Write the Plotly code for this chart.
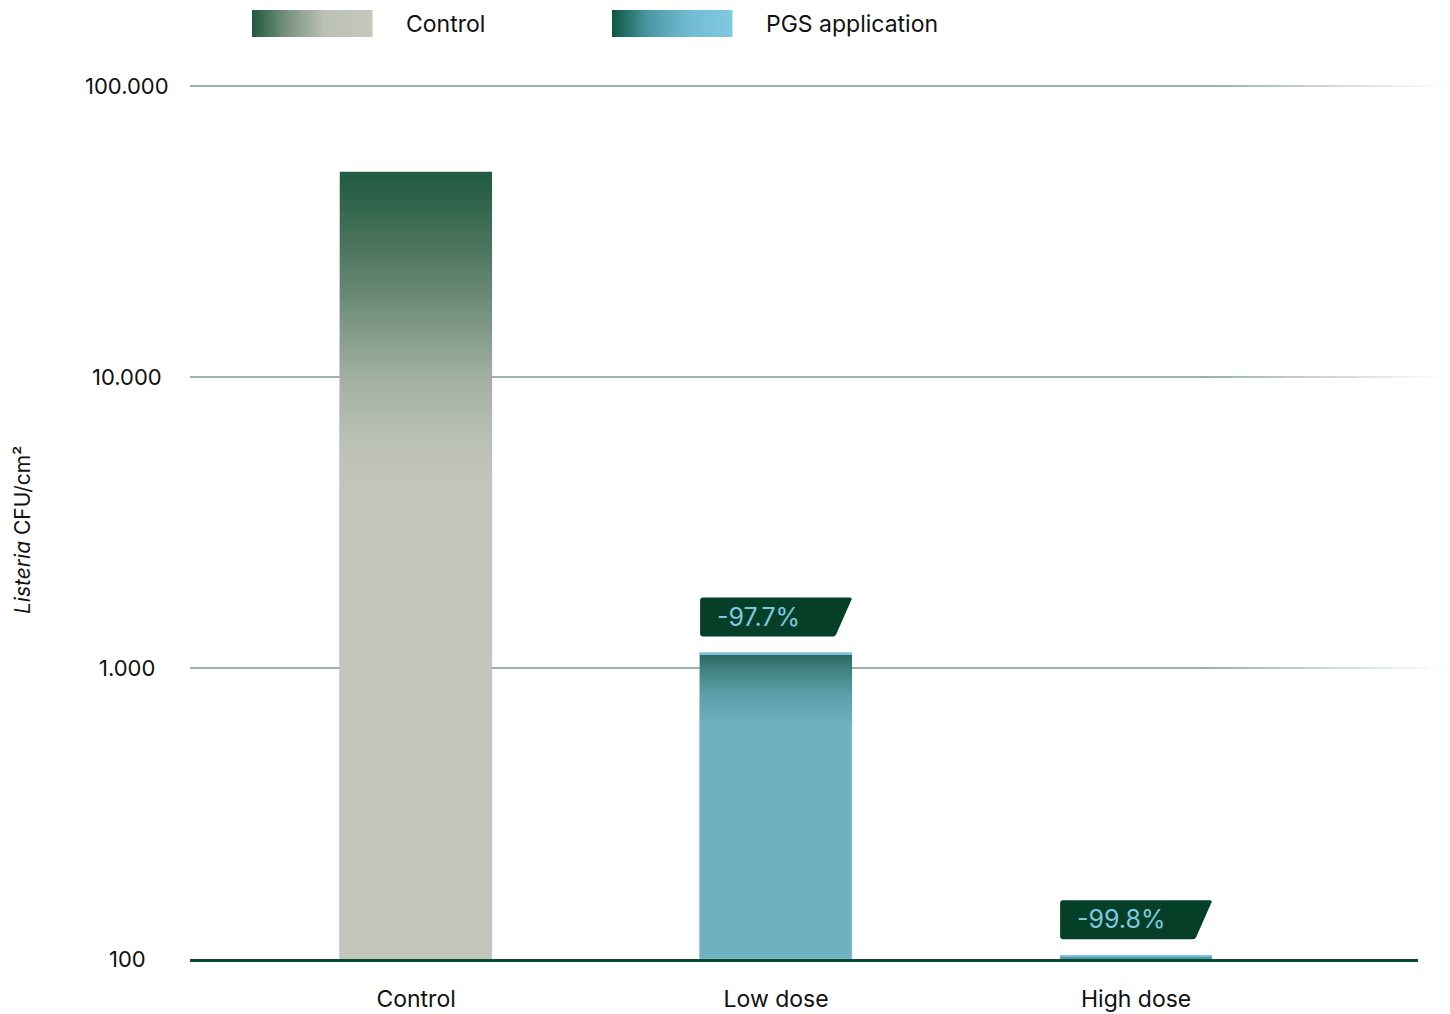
import math
import plotly.graph_objects as go

# ---------------- data ----------------
categories = ["Control", "Low dose", "High dose"]
cfu_values = [50500, 1130, 103]
bar_series = ["Control", "PGS application", "PGS application"]
reduction_labels = [None, "-97.7%", "-99.8%"]
y_tick_values = [100, 1000, 10000, 100000]
y_tick_labels = ["100", "1.000", "10.000", "100.000"]
legend_names = ["Control", "PGS application"]

# ---------------- styles ----------------
FONT = "Inter"
W, H = 1450, 1014
ML, MR, MT, MB = 190, 32, 86, 55
PW, PH = W - ML - MR, H - MT - MB
Y_MIN_LOG, Y_MAX_LOG = 2, 5
PX_PER_DEC = PH / (Y_MAX_LOG - Y_MIN_LOG)
BAR_W = 0.422
X_RANGE = [-0.628, 2.783]

bar_gradients = {
    "Control": {"length_px": 320,
                "stops": [(0, "#1f5a40"), (0.25, "#4f7762"), (0.42, "#718f7c"),
                          (0.64, "#a2b0a1"), (0.85, "#bcc1b5"), (1.0, "#c3c6bb")]},
    "PGS application": {"length_px": 72,
                        "stops": [(0, "#2b6660"), (0.3, "#468887"), (0.6, "#5f9fac"),
                                  (1.0, "#6fb1c1")]},
}
legend_gradients = {
    "Control": [(0, "#1f5a40"), (0.3, "#7a947f"), (0.6, "#bcc1b5"), (1.0, "#c4c7bc")],
    "PGS application": [(0, "#0f5642"), (0.3, "#4a98a4"), (0.65, "#72bcd2"), (1.0, "#80c9e1")],
}


def hex2rgb(h):
    h = h.lstrip("#")
    return [int(h[i:i + 2], 16) for i in (0, 2, 4)]


def interp(stops, f):
    f = min(max(f, 0), 1)
    for (a, ca), (b, cb) in zip(stops[:-1], stops[1:]):
        if a <= f <= b:
            t = 0 if b == a else (f - a) / (b - a)
            r1, r2 = hex2rgb(ca), hex2rgb(cb)
            c = [round(r1[i] + (r2[i] - r1[i]) * t) for i in range(3)]
            return "rgb(%d,%d,%d)" % tuple(c)
    return stops[-1][1]


fig = go.Figure()

# ---------------- gradient bars (stacked overlay segments) ----------------
K = 48
idx_grad = [i for i in range(len(categories)) if cfu_values[i] > 10 ** Y_MIN_LOG * 1.2]
fig.add_trace(go.Bar(
    x=[categories[i] for i in idx_grad],
    y=[cfu_values[i] - 10 ** Y_MIN_LOG for i in idx_grad],
    base=[10 ** Y_MIN_LOG] * len(idx_grad),
    width=BAR_W,
    marker=dict(color=[bar_gradients[bar_series[i]]["stops"][-1][1] for i in idx_grad],
                line=dict(width=0.6, color=["#b3b7ab", "#6fb1c1"][:len(idx_grad)])),
    showlegend=False, hoverinfo="skip"))
for j in range(K, 0, -1):
    f = j / K
    xs, ys, bs, cs = [], [], [], []
    for i in idx_grad:
        g = bar_gradients[bar_series[i]]
        d = g["length_px"] / PX_PER_DEC
        top = math.log10(cfu_values[i])
        lower = max(top - f * d, Y_MIN_LOG)
        xs.append(categories[i])
        bs.append(10 ** lower)
        ys.append(cfu_values[i] - 10 ** lower)
        cs.append(interp(g["stops"], f - 0.5 / K))
    fig.add_trace(go.Bar(x=xs, y=ys, base=bs, width=BAR_W,
                         marker=dict(color=cs, line=dict(width=0)),
                         showlegend=False, hoverinfo="skip"))

# small bars (High dose) and light cap on PGS bars
for i in range(len(categories)):
    if bar_series[i] == "PGS application":
        v = cfu_values[i]
        cap = 10 ** (math.log10(v) - 2.2 / PX_PER_DEC)
        fig.add_trace(go.Bar(x=[categories[i]], y=[v - cap], base=[cap], width=BAR_W,
                             marker=dict(color="#7cc4da", line=dict(width=0)),
                             showlegend=False, hoverinfo="skip"))
        if i not in idx_grad:
            mid = 10 ** (math.log10(v) - 2.5 / PX_PER_DEC)
            fig.add_trace(go.Bar(x=[categories[i]], y=[mid - 100], base=[100], width=BAR_W,
                                 marker=dict(color="#4f9aa8", line=dict(width=0)),
                                 showlegend=False, hoverinfo="skip"))

shapes = []
annotations = []

# ---------------- fading gridlines ----------------
GRID_RGB = (55, 104, 88)
for tv in y_tick_values[1:]:
    yp = (math.log10(tv) - Y_MIN_LOG) / (Y_MAX_LOG - Y_MIN_LOG)
    shapes.append(dict(type="line", xref="paper", yref="paper", x0=0, x1=0.82, y0=yp, y1=yp,
                       line=dict(color="rgb(%d,%d,%d)" % GRID_RGB, width=1.2), layer="below"))
    n = 14
    x_start, x_end = 0.82, 1.022
    for s in range(n):
        a = x_start + (x_end - x_start) * s / n
        b = x_start + (x_end - x_start) * (s + 1) / n
        alpha = 1 - (s + 0.5) / n
        shapes.append(dict(type="line", xref="paper", yref="paper", x0=a, x1=b, y0=yp, y1=yp,
                           line=dict(color="rgba(%d,%d,%d,%.3f)" % (GRID_RGB + (alpha * 0.9,)),
                                     width=1.2),
                           layer="below"))

# ---------------- y tick labels (centred) ----------------
for tv, tt in zip(y_tick_values, y_tick_labels):
    annotations.append(dict(text=tt, xref="paper", yref="y", x=(127 - ML) / PW,
                            y=math.log10(tv), xanchor="center", yanchor="middle",
                            showarrow=False, font=dict(family=FONT, size=22, color="#111111")))

# ---------------- axis title ----------------
annotations.append(dict(text="<i>Listeria</i> CFU/cm²", xref="paper", yref="paper",
                        x=(22 - ML) / PW, y=(959 - 530) / PH, textangle=-90,
                        xanchor="center", yanchor="middle", showarrow=False,
                        font=dict(family=FONT, size=21, color="#111111")))

# ---------------- reduction labels ----------------
for i, lab in enumerate(reduction_labels):
    if not lab:
        continue
    yp = (math.log10(cfu_values[i]) - Y_MIN_LOG) / (Y_MAX_LOG - Y_MIN_LOG)
    path = ("M -73,16 Q -76,16 -76,19 L -76,52 Q -76,55 -73,55 L 73,55 Q 77,55 75,52 "
            "L 60,18 Q 59,16 57,16 Z")
    shapes.append(dict(type="path", xref="x", yref="paper", xsizemode="pixel",
                       ysizemode="pixel", xanchor=i, yanchor=yp, path=path,
                       fillcolor="#053f27", line=dict(width=0), layer="above"))
    annotations.append(dict(text=lab, xref="x", yref="paper", x=i, y=yp, xanchor="left",
                            yanchor="middle", xshift=-61, yshift=36, showarrow=False,
                            font=dict(family=FONT, size=25, color="#7fc8e0")))

# ---------------- custom legend ----------------
legend_px = {"Control": (252, 404), "PGS application": (612, 764)}
for name in legend_names:
    sx, tx = legend_px[name]
    x0p, x1p = (sx - ML) / PW, (sx + 120 - ML) / PW
    y0p, y1p = (959 - 37) / PH, (959 - 10) / PH
    n = 40
    for s in range(n):
        a = x0p + (x1p - x0p) * s / n
        b = x0p + (x1p - x0p) * (s + 1) / n + 0.0004
        shapes.append(dict(type="rect", xref="paper", yref="paper", x0=a, x1=b, y0=y0p, y1=y1p,
                           fillcolor=interp(legend_gradients[name], (s + 0.5) / n),
                           line=dict(width=0)))
    annotations.append(dict(text=name, xref="paper", yref="paper", x=(tx - ML) / PW,
                            y=(959 - 24) / PH, xanchor="left", yanchor="middle",
                            showarrow=False, font=dict(family=FONT, size=23, color="#111111")))

fig.update_layout(
    width=W, height=H,
    margin=dict(l=ML, r=MR, t=MT, b=MB, pad=0, autoexpand=False),
    paper_bgcolor="white", plot_bgcolor="white",
    barmode="overlay", bargap=0,
    showlegend=False,
    shapes=shapes, annotations=annotations,
    font=dict(family=FONT, color="#111111"),
    xaxis=dict(type="category", categoryorder="array", categoryarray=categories,
               range=X_RANGE, showgrid=False, zeroline=False, automargin=False,
               showline=True, linecolor="#0b4a2f", linewidth=2.5,
               ticks="outside", ticklen=18, tickcolor="rgba(0,0,0,0)",
               tickfont=dict(family=FONT, size=23, color="#111111")),
    yaxis=dict(type="log", range=[Y_MIN_LOG, Y_MAX_LOG], showgrid=False, zeroline=False,
               automargin=False,
               showline=False, showticklabels=False, ticks=""),
)

fig.write_html("out.html", config={"displayModeBar": False},
               post_script="document.body.style.margin='0';document.body.style.overflow='hidden';")
